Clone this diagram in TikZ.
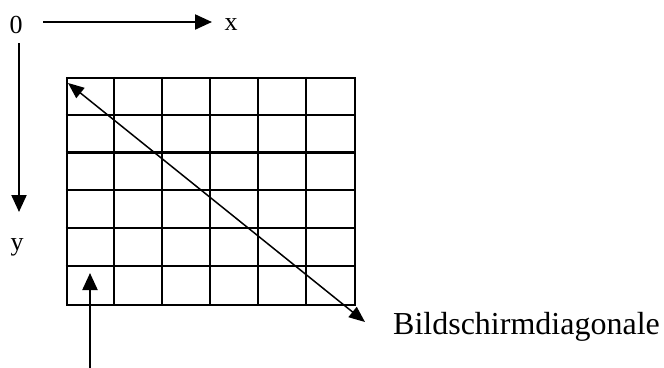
\documentclass[tikz,border=0pt]{standalone}
\usepackage{fontspec}
\setmainfont{Liberation Serif}
\usetikzlibrary{arrows.meta}
\tikzset{
  lbl/.style={inner sep=0pt, anchor=base, font=\fontsize{26}{28}\selectfont},
  biglbl/.style={inner sep=0pt, anchor=base west, font=\fontsize{32}{34}\selectfont},
  axis/.style={line width=2.2pt, -{Triangle[length=17pt,width=15pt]}},
  diag/.style={line width=1.5pt, {Triangle[length=16pt,width=13pt]}-{Triangle[length=16pt,width=13pt]}},
  gridline/.style={line width=2.2pt},
}
\begin{document}
\begin{tikzpicture}[x=1pt,y=-1pt]
\useasboundingbox (0,0) rectangle (664,367);
% labels
\node[lbl] (zero) at (16,33) {0};
\node[lbl] (xl) at (231,30) {x};
\node[lbl] (yl) at (17,250) {y};
\node[biglbl] (bsd) at (393,334) {Bildschirmdiagonale};
% axes
\coordinate (xs) at (43,22);
\coordinate (xe) at (212,22);
\draw[axis] (xs) -- (xe);
\coordinate (ys) at (19,43);
\coordinate (ye) at (19,212);
\draw[axis] (ys) -- (ye);
% screen grid
\node[draw, line width=2.2pt, minimum width=288.3pt, minimum height=227pt, inner sep=0pt] (screen) at (210.85,191.5) {};
\foreach \i in {1,...,5} {
  \draw[gridline] ([xshift=\i*48.05pt]screen.north west) -- ([xshift=\i*48.05pt]screen.south west);
  \draw[gridline] ([yshift=-\i*37.83pt]screen.north west) -- ([yshift=-\i*37.83pt]screen.north east);
}
% diagonal
\coordinate (d1) at (68,83);
\coordinate (d2) at (365,322);
\draw[diag] (d1) -- (d2);
% pointer from below
\coordinate (pb) at (90,370);
\coordinate (pt) at (90,273);
\draw[axis] (pb) -- (pt);
\end{tikzpicture}
\end{document}
